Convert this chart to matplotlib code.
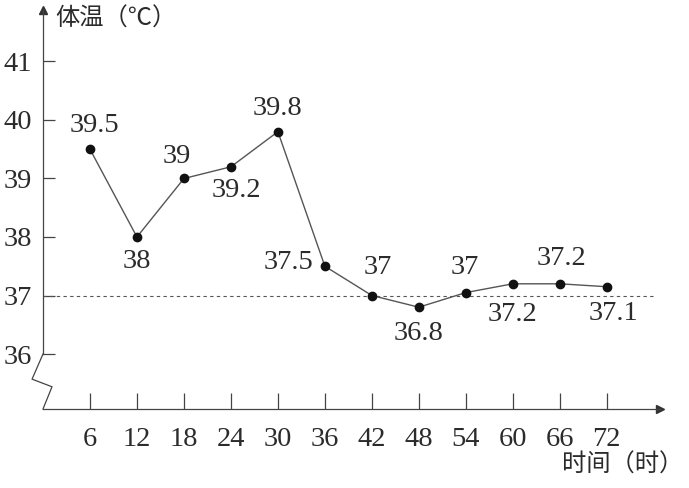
import matplotlib.pyplot as plt

# data
hours = [6, 12, 18, 24, 30, 36, 42, 48, 54, 60, 66, 72]
temps = [39.5, 38, 39, 39.2, 39.8, 37.5, 37, 36.8, 37.05, 37.2, 37.2, 37.15]
temp_labels = ["39.5", "38", "39", "39.2", "39.8", "37.5", "37", "36.8", "37", "37.2", "37.2", "37.1"]
y_ticks = [36, 37, 38, 39, 40, 41]
normal_temp = 37

# where each value label sits relative to its point (offset points)
label_offsets = [(3, 17), (0, -18), (-5, 16), (4, -17), (0, 17), (-26, 3),
                 (4, 20), (0, -19), (-1, 18), (0, -22), (1, 18), (5, -19)]

ink = "#2b2b2b"
num_font = "Liberation Serif"
cjk_font = ["Noto Sans CJK SC", "DejaVu Sans"]
num_size = 20.5

fig = plt.figure(figsize=(6.89, 4.88), dpi=100)
# axes box: y axis at x=43px, x axis at y=409px, arrows end at 660px / 10px
ax = fig.add_axes([43 / 689, (488 - 409) / 488, (660 - 43) / 689, (409 - 10) / 488])
ax.set_xlim(0, 78.8)
ax.set_ylim(35.06, 41.88)
ax.patch.set_alpha(0)

for s in ["top", "right"]:
    ax.spines[s].set_visible(False)
ax.spines["left"].set_bounds(36, 41.88)
for s in ["left", "bottom"]:
    ax.spines[s].set_color("#444444")
    ax.spines[s].set_linewidth(0.9)

# axis break zigzag under 36
ax.plot([0, -1.4, 1.15, 0], [36, 35.57, 35.44, 35.06], color="#444444", lw=0.9, clip_on=False)

# arrow heads
ax.plot(0, 1, "^", color="#333333", ms=6, transform=ax.transAxes, clip_on=False)
ax.plot(1, 0, ">", color="#333333", ms=6, transform=ax.transAxes, clip_on=False)

ax.set_xticks(hours)
ax.set_xticklabels([str(h) for h in hours])
ax.set_yticks(y_ticks)
ax.set_yticklabels([str(t) for t in y_ticks])
ax.tick_params(axis="y", direction="in", length=8.6, width=0.9, color="#444444",
               pad=8, labelsize=num_size, labelcolor=ink)
ax.tick_params(axis="x", direction="in", length=11.5, width=0.9, color="#444444",
               pad=13, labelsize=num_size, labelcolor=ink)
for lab in ax.get_xticklabels() + ax.get_yticklabels():
    lab.set_fontfamily(num_font)

# normal temperature reference line
ax.axhline(normal_temp, xmin=0, xmax=0.99, color="#555555", lw=0.8, ls=(0, (3, 3)))

# temperature curve
ax.plot(hours, temps, color="#555555", lw=1.0, marker="o", ms=6,
        markerfacecolor="#111111", markeredgecolor="#111111", clip_on=False)

for h, t, txt, off in zip(hours, temps, temp_labels, label_offsets):
    ax.annotate(txt, (h, t), xytext=off, textcoords="offset points",
                ha="center", va="center", fontsize=num_size, color=ink, family=num_font)

# axis titles
ax.text(1.6, 41.74, "体温（℃）", fontsize=17.5, color=ink, family=cjk_font,
        ha="left", va="center", clip_on=False)
ax.text(81.8, 34.1, "时间（时）", fontsize=17.5, color=ink, family=cjk_font,
        ha="right", va="center", clip_on=False)

fig.savefig("out.png", dpi=100)
